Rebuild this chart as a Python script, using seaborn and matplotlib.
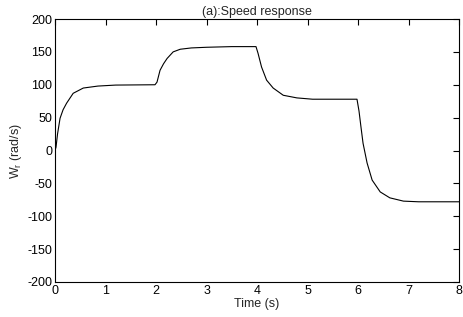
import matplotlib
matplotlib.use("Agg")
import matplotlib.pyplot as plt
import seaborn as sns
import pandas as pd

# Values
time_s = [0.0, 0.02, 0.05, 0.1, 0.16, 0.23, 0.36, 0.56, 0.85, 1.2, 1.98,
          2.02, 2.08, 2.15, 2.22, 2.34, 2.48, 2.7, 3.0, 3.5, 3.98,
          4.02, 4.09, 4.19, 4.32, 4.52, 4.79, 5.1, 5.5, 5.98,
          6.02, 6.06, 6.1, 6.18, 6.28, 6.44, 6.63, 6.9, 7.2, 8.0]
speed = [0, 5, 25, 49, 62, 72, 87, 95, 98, 99.5, 100,
         104, 122, 132, 140, 150, 154, 156, 157, 158, 158,
         148, 127, 107, 95, 84, 80, 78, 78, 78,
         60, 35, 11, -19, -45, -63, -72, -77, -78, -78]

x_ticks = [0, 1, 2, 3, 4, 5, 6, 7, 8]
y_ticks = [-200, -150, -100, -50, 0, 50, 100, 150, 200]

title_text = "(a):Speed response"
x_label = "Time (s)"
y_label = r"W$_\mathregular{r}$ (rad/s)"

df = pd.DataFrame({"t": time_s, "w": speed})

sns.set_style("white")
plt.rcParams["font.family"] = ["Liberation Sans", "DejaVu Sans"]
plt.rcParams["mathtext.fontset"] = "custom"
plt.rcParams["mathtext.rm"] = "Liberation Sans"

fig = plt.figure(figsize=(4.63, 3.17), dpi=100)
ax = fig.add_axes([55 / 463, 1 - 282 / 317, 404 / 463, 263 / 317])

sns.lineplot(data=df, x="t", y="w", ax=ax, color="black", linewidth=0.8,
             estimator=None, sort=False)

ax.set_xlim(0, 8)
ax.set_ylim(-200, 200)
ax.set_xticks(x_ticks)
ax.set_yticks(y_ticks)
ax.set_xticklabels([str(v) for v in x_ticks])
ax.set_yticklabels([str(v) for v in y_ticks])
ax.tick_params(direction="in", length=4, width=0.8, top=True, right=True,
               labelsize=9, colors="black", pad=2)
for s in ax.spines.values():
    s.set_visible(True)
    s.set_color("black")
    s.set_linewidth(0.8)

ax.set_title(title_text, fontsize=9, pad=3)
ax.set_xlabel(x_label, fontsize=9, labelpad=1)
ax.set_ylabel(y_label, fontsize=9, labelpad=2)

fig.savefig("out.png", dpi=100, facecolor="white")
